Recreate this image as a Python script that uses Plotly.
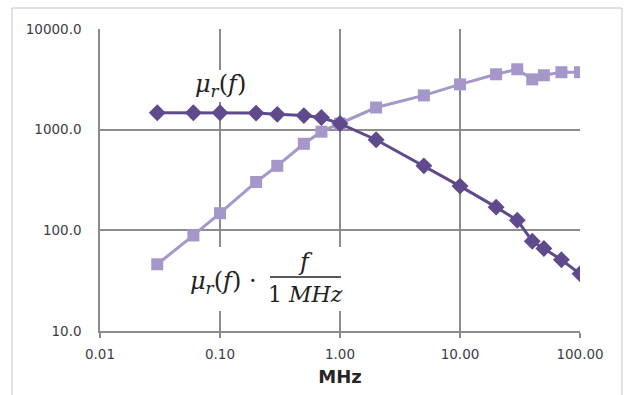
import plotly.graph_objects as go

# Data
freq_mhz = [0.03, 0.06, 0.1, 0.2, 0.3, 0.5, 0.7, 1, 2, 5, 10, 20, 30, 40, 50, 70, 100]
mu_r = [1470, 1470, 1470, 1460, 1420, 1380, 1320, 1150, 794, 437, 275, 170, 126, 78, 66, 51, 37]
mu_r_times_f = [46, 89, 148, 302, 437, 724, 955, 1150, 1660, 2190, 2820, 3550, 3980, 3160, 3470, 3720, 3720]

x_tickvals = [0.01, 0.1, 1, 10, 100]
x_ticktext = ["0.01", "0.10", "1.00", "10.00", "100.00"]
y_tickvals = [10, 100, 1000, 10000]
y_ticktext = ["10.0", "100.0", "1000.0", "10000.0"]

dark = "#5e4a8c"
light = "#a597c9"
grid = "#8c8c8c"
tickfont = dict(family="DejaVu Sans", size=13.5, color="#3c3c48")

fig = go.Figure()
fig.add_trace(go.Scatter(
    x=freq_mhz, y=mu_r_times_f, mode="lines+markers",
    line=dict(color=light, width=3),
    marker=dict(symbol="square", size=12, color=light),
    showlegend=False))
fig.add_trace(go.Scatter(
    x=freq_mhz, y=mu_r, mode="lines+markers",
    line=dict(color=dark, width=3),
    marker=dict(symbol="diamond", size=13, color=dark),
    showlegend=False))

fig.update_xaxes(
    type="log", range=[-2, 2], tickvals=x_tickvals, ticktext=x_ticktext,
    showgrid=True, gridcolor=grid, gridwidth=1.5,
    showline=True, linecolor=grid, linewidth=1.5,
    ticks="outside", ticklen=5, tickcolor=grid, tickwidth=1.5,
    ticklabelstandoff=5,
    tickfont=tickfont,
    title=dict(text="<b>MHz</b>", font=dict(family="DejaVu Sans", size=18, color="#262626"), standoff=9),
    zeroline=False)
fig.update_yaxes(
    type="log", range=[1, 4], tickvals=y_tickvals, ticktext=y_ticktext,
    showgrid=True, gridcolor=grid, gridwidth=1.5,
    showline=True, linecolor=grid, linewidth=1.5,
    ticks="", ticklabelstandoff=14,
    tickfont=tickfont, zeroline=False)

def px(x):
    return (x - 100) / 480.0

def py(y):
    return (331 - y) / 302.0

shapes = [
    # outer frame
    dict(type="rect", xref="paper", yref="paper", x0=px(12), x1=px(622), y0=py(420), y1=py(8),
         line=dict(color="#c4c4c4", width=1), fillcolor="rgba(0,0,0,0)", layer="below"),
    # white boxes behind formula labels (cover gridlines)
    dict(type="rect", xref="paper", yref="paper", x0=px(186), x1=px(254), y0=py(102), y1=py(70),
         line=dict(width=0), fillcolor="white", layer="above"),
    dict(type="rect", xref="paper", yref="paper", x0=px(184), x1=px(348), y0=py(311), y1=py(247),
         line=dict(width=0), fillcolor="white", layer="above"),
    # fraction bar
    dict(type="line", xref="paper", yref="paper", x0=px(270), x1=px(341), y0=py(277), y1=py(277),
         line=dict(color="#222222", width=1.5), layer="above"),
]

serif_big = dict(family="DejaVu Serif", size=24, color="#222222")
serif = dict(family="DejaVu Serif", size=22, color="#222222")
annotations = [
    dict(text="<i>μ</i><sub><i>r</i></sub>(<i>f</i>)", xref="paper", yref="paper",
         x=px(220), y=py(86), xanchor="center", yanchor="middle", showarrow=False, font=serif_big),
    dict(text="<i>μ</i><sub><i>r</i></sub>(<i>f</i>) ·", xref="paper", yref="paper",
         x=px(188), y=py(282), xanchor="left", yanchor="middle", showarrow=False, font=serif_big),
    dict(text="<i>f</i>", xref="paper", yref="paper",
         x=px(305), y=py(262), xanchor="center", yanchor="middle", showarrow=False, font=serif_big),
    dict(text="1 <i>MHz</i>", xref="paper", yref="paper",
         x=px(305), y=py(294), xanchor="center", yanchor="middle", showarrow=False, font=serif),
]

fig.update_layout(
    width=624, height=395,
    margin=dict(l=100, r=44, t=29, b=64),
    paper_bgcolor="white", plot_bgcolor="white",
    shapes=shapes, annotations=annotations,
)

fig.write_html("out.html")
